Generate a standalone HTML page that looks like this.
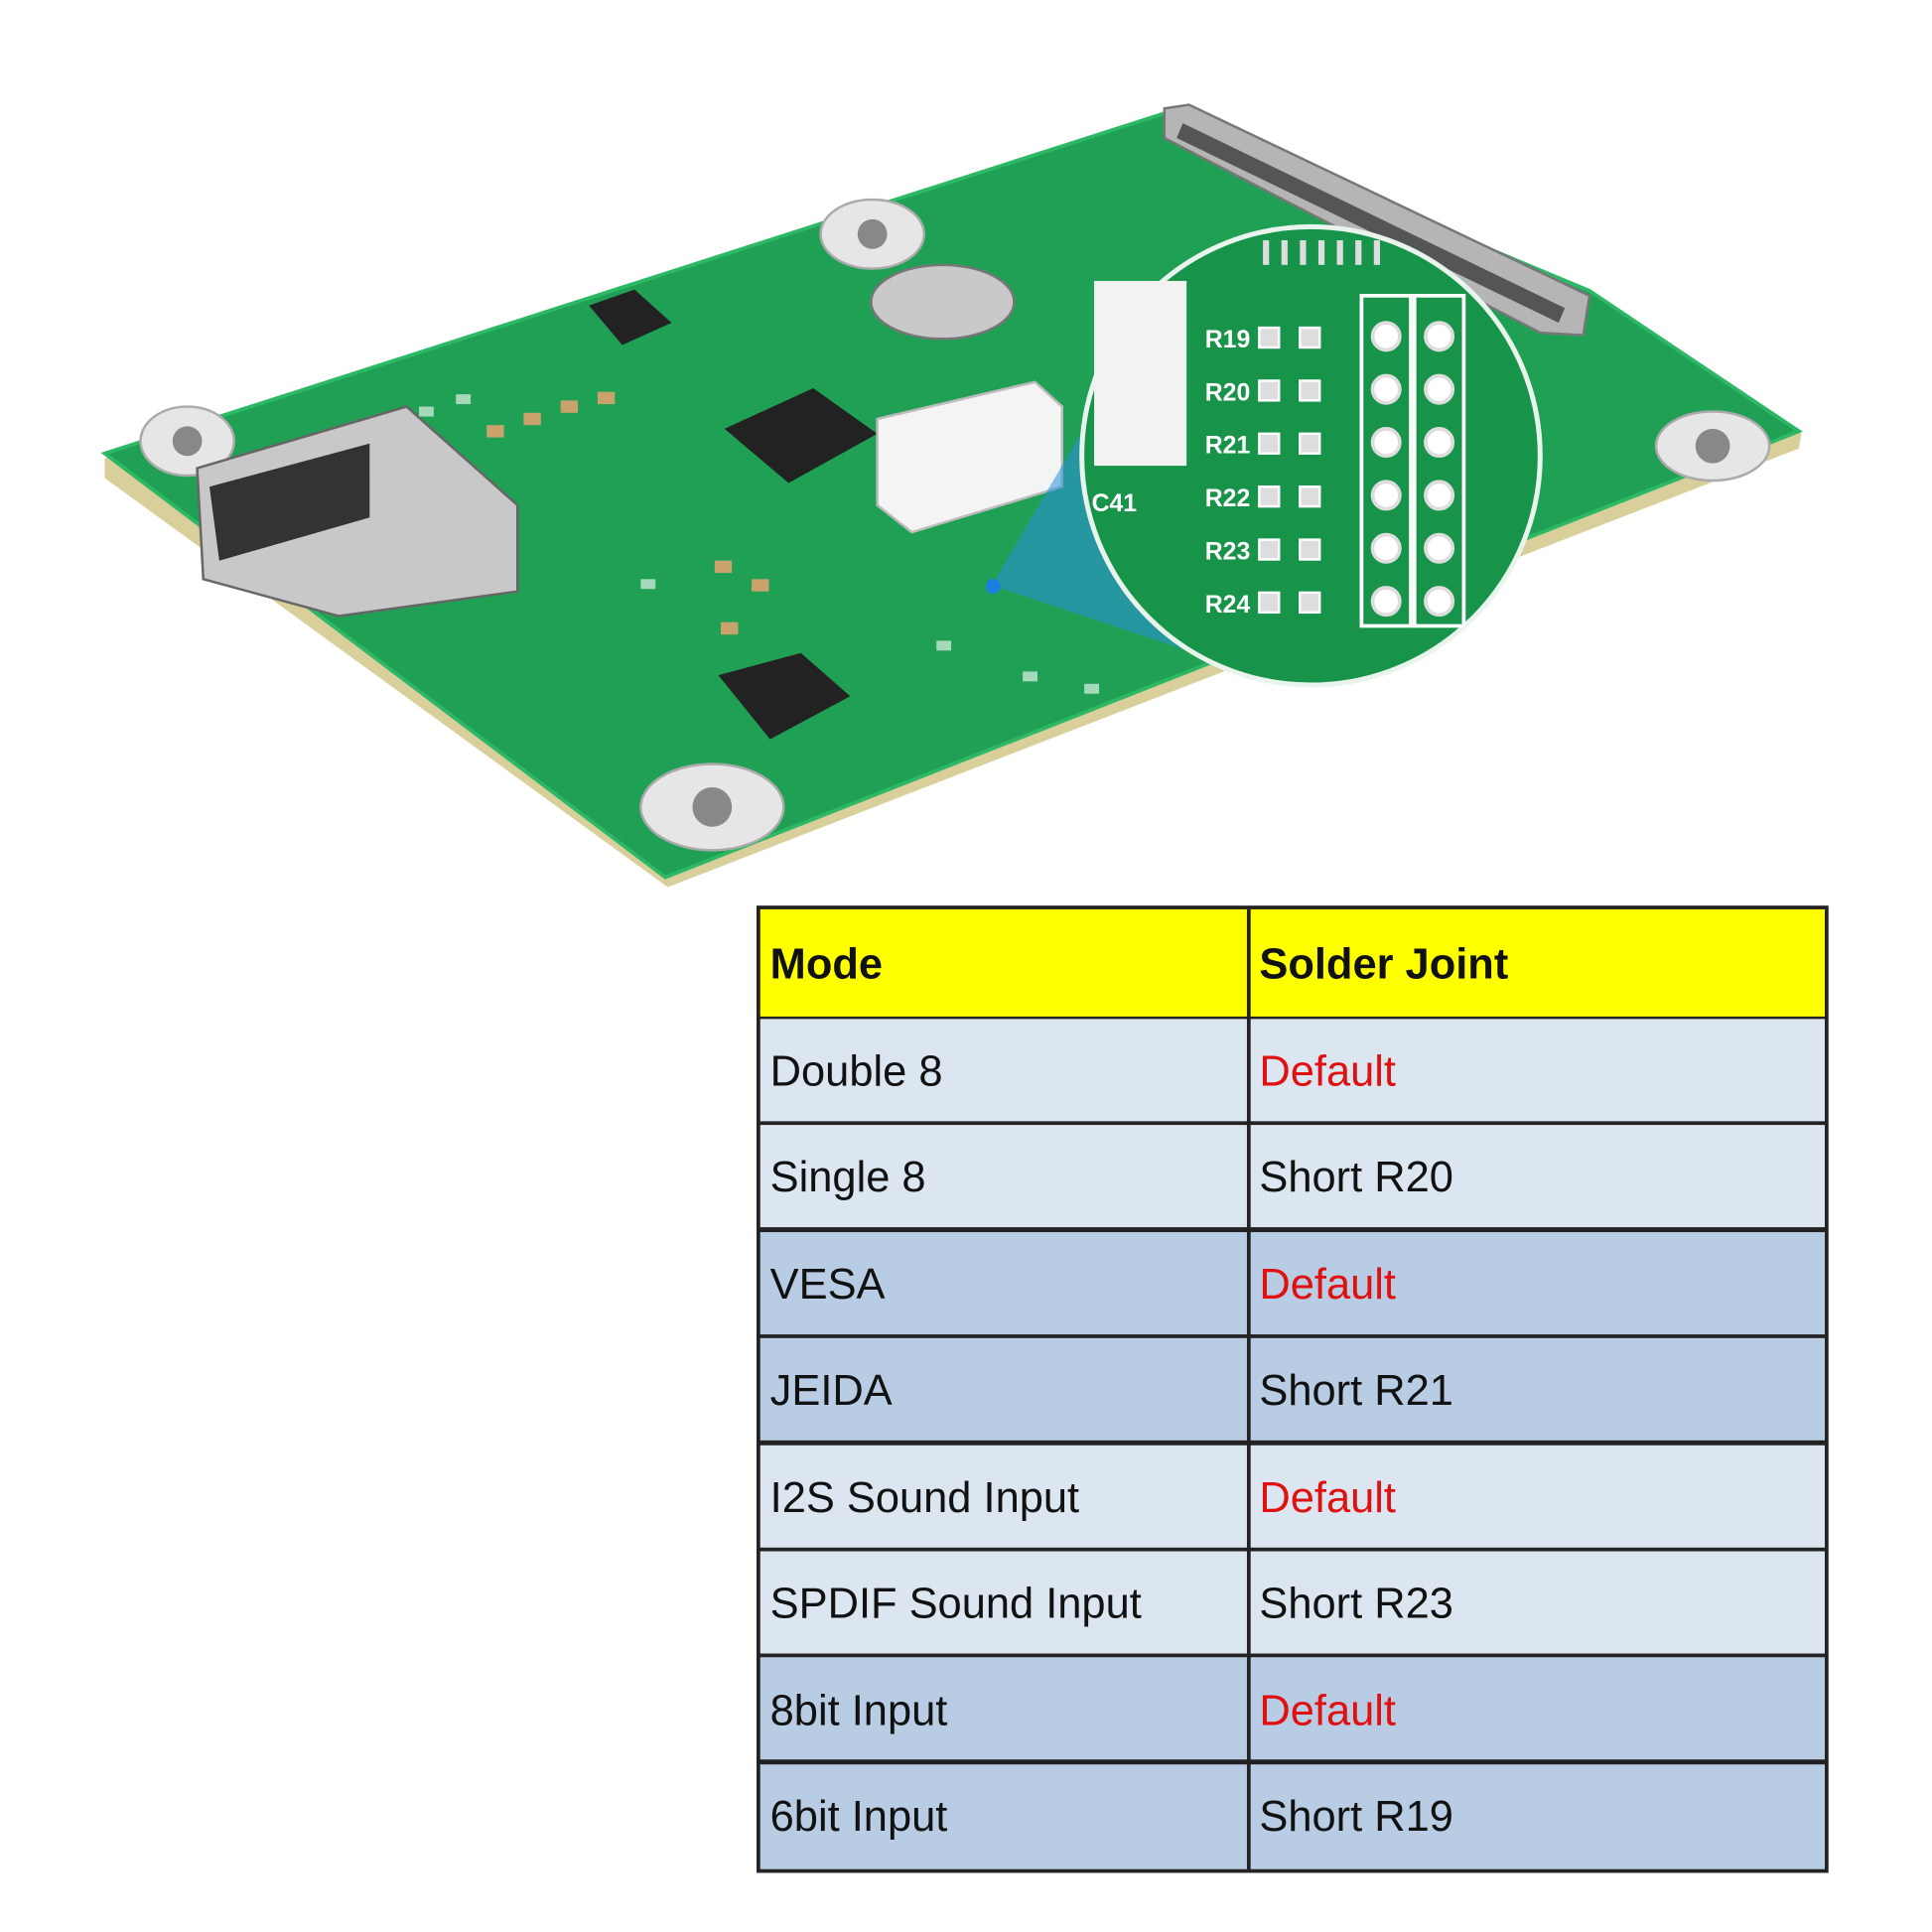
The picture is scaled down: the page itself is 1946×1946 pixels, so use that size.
<!DOCTYPE html>
<html><head><meta charset="utf-8"><style>
html,body{margin:0;padding:0;background:#fff}
svg{display:block}
text{font-family:"Liberation Sans",sans-serif}
</style></head><body>
<svg width="1946" height="1946" viewBox="0 0 1568 1568" xmlns="http://www.w3.org/2000/svg">
<rect width="1568" height="1568" fill="#fff"/>
<polygon points="85,372 945,98 1290,240 1462,352 1460,364 542,720 85,388" fill="#d8cf9a"/>
<polygon points="85,368 945,92 1290,236 1460,350 540,712" fill="#1fa055"/>
<polygon points="85,368 945,92 1290,236 1460,350 540,712" fill="none" stroke="#2db866" stroke-width="3"/>
<polygon points="945,88 965,85 1290,240 1285,272 1250,270 945,112" fill="#b5b5b5" stroke="#777" stroke-width="2"/>
<polygon points="960,100 1270,250 1265,262 955,112" fill="#555"/>
<g fill="#e6e6e6" stroke="#aaa" stroke-width="2">
<ellipse cx="152" cy="358" rx="38" ry="28"/><ellipse cx="708" cy="190" rx="42" ry="28"/>
<ellipse cx="1390" cy="362" rx="46" ry="28"/><ellipse cx="578" cy="655" rx="58" ry="35"/>
</g>
<g fill="#888"><circle cx="152" cy="358" r="12"/><circle cx="708" cy="190" r="12"/><circle cx="1390" cy="362" r="14"/><circle cx="578" cy="655" r="16"/></g>
<polygon points="160,380 330,330 420,410 420,480 275,500 165,470" fill="#c8c8c8" stroke="#666" stroke-width="2"/>
<polygon points="170,395 300,360 300,420 178,455" fill="#333"/>
<polygon points="588,348 660,315 712,352 640,392" fill="#222"/>
<polygon points="583,548 650,530 690,565 625,600" fill="#222"/>
<polygon points="478,248 515,235 545,262 505,280" fill="#222"/>
<ellipse cx="765" cy="245" rx="58" ry="30" fill="#c9c9c9" stroke="#777" stroke-width="2"/>
<polygon points="712,340 840,310 862,330 862,395 740,432 712,410" fill="#f4f4f4" stroke="#bbb" stroke-width="2"/>
<g fill="#c9a36b">
<rect x="395" y="345" width="14" height="10"/><rect x="425" y="335" width="14" height="10"/><rect x="455" y="325" width="14" height="10"/><rect x="485" y="318" width="14" height="10"/>
<rect x="580" y="455" width="14" height="10"/><rect x="610" y="470" width="14" height="10"/><rect x="585" y="505" width="14" height="10"/>
</g>
<g fill="#fff" opacity="0.6">
<rect x="340" y="330" width="12" height="8"/><rect x="370" y="320" width="12" height="8"/><rect x="520" y="470" width="12" height="8"/><rect x="760" y="520" width="12" height="8"/><rect x="830" y="545" width="12" height="8"/><rect x="880" y="555" width="12" height="8"/>
</g>
<polygon points="805,475 890,330 1000,540" fill="#2a8fe0" opacity="0.55"/>
<circle cx="806" cy="476" r="6" fill="#1a7fe0"/>
<circle cx="1064" cy="370" r="186" fill="#17944a" stroke="#e8f4ec" stroke-width="4"/>
<rect x="888" y="228" width="75" height="150" fill="#f2f2f2"/>
<g fill="#fff" font-size="20" font-weight="bold">
<text x="978" y="282">R19</text><text x="978" y="325">R20</text><text x="978" y="368">R21</text><text x="978" y="411">R22</text><text x="978" y="454">R23</text><text x="978" y="497">R24</text>
<text x="886" y="415">C41</text>
</g>
<g fill="#ddd" stroke="#fff" stroke-width="2">
<rect x="1022" y="266" width="16" height="16"/><rect x="1055" y="266" width="16" height="16"/>
<rect x="1022" y="309" width="16" height="16"/><rect x="1055" y="309" width="16" height="16"/>
<rect x="1022" y="352" width="16" height="16"/><rect x="1055" y="352" width="16" height="16"/>
<rect x="1022" y="395" width="16" height="16"/><rect x="1055" y="395" width="16" height="16"/>
<rect x="1022" y="438" width="16" height="16"/><rect x="1055" y="438" width="16" height="16"/>
<rect x="1022" y="481" width="16" height="16"/><rect x="1055" y="481" width="16" height="16"/>
</g>
<g fill="#fff" stroke="#ddd" stroke-width="3">
<circle cx="1125" cy="273" r="11"/><circle cx="1168" cy="273" r="11"/>
<circle cx="1125" cy="316" r="11"/><circle cx="1168" cy="316" r="11"/>
<circle cx="1125" cy="359" r="11"/><circle cx="1168" cy="359" r="11"/>
<circle cx="1125" cy="402" r="11"/><circle cx="1168" cy="402" r="11"/>
<circle cx="1125" cy="445" r="11"/><circle cx="1168" cy="445" r="11"/>
<circle cx="1125" cy="488" r="11"/><circle cx="1168" cy="488" r="11"/>
</g>
<g stroke="#fff" stroke-width="3" fill="none">
<rect x="1105" y="240" width="40" height="268"/><rect x="1148" y="240" width="40" height="268"/>
</g>
<g fill="#ddd"><rect x="1025" y="195" width="5" height="20"/><rect x="1040" y="195" width="5" height="20"/><rect x="1055" y="195" width="5" height="20"/><rect x="1070" y="195" width="5" height="20"/><rect x="1085" y="195" width="5" height="20"/><rect x="1100" y="195" width="5" height="20"/><rect x="1115" y="195" width="5" height="20"/></g>
<rect x="614" y="735" width="870" height="785" fill="#222"/>
<rect x="617" y="738" width="864" height="87" fill="#ffff00"/>
<g fill="#dce6f1">
<rect x="617" y="827" width="864" height="83"/><rect x="617" y="913" width="864" height="83"/>
<rect x="617" y="1173" width="864" height="83"/><rect x="617" y="1259" width="864" height="83"/>
</g>
<g fill="#b8cce4">
<rect x="617" y="1000" width="864" height="83"/><rect x="617" y="1086" width="864" height="83"/>
<rect x="617" y="1345" width="864" height="83"/><rect x="617" y="1432" width="864" height="85"/>
</g>
<rect x="1012" y="738" width="3" height="780" fill="#222"/>
<g font-size="35" fill="#111">
<text x="625" y="794" font-weight="bold">Mode</text><text x="1022" y="794" font-weight="bold">Solder Joint</text>
<text x="625" y="881">Double 8</text>
<text x="625" y="967">Single 8</text><text x="1022" y="967">Short R20</text>
<text x="625" y="1054">VESA</text>
<text x="625" y="1140">JEIDA</text><text x="1022" y="1140">Short R21</text>
<text x="625" y="1227">I2S Sound Input</text>
<text x="625" y="1313">SPDIF Sound Input</text><text x="1022" y="1313">Short R23</text>
<text x="625" y="1400">8bit Input</text>
<text x="625" y="1486">6bit Input</text><text x="1022" y="1486">Short R19</text>
</g>
<g font-size="35" fill="#e01010">
<text x="1022" y="881">Default</text><text x="1022" y="1054">Default</text><text x="1022" y="1227">Default</text><text x="1022" y="1400">Default</text>
</g>
</svg>
</body></html>
